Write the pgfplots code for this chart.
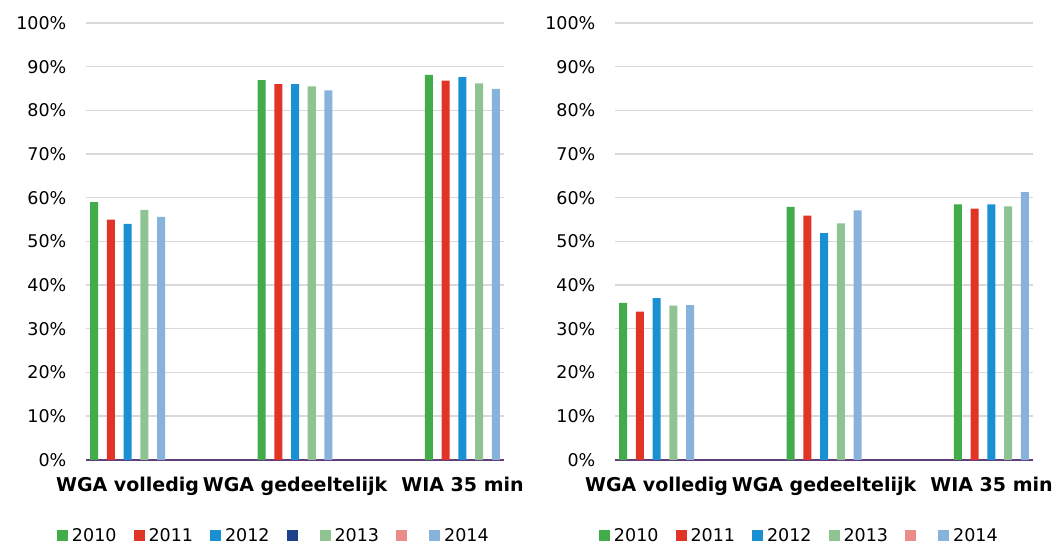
\documentclass[border=0pt]{standalone}
\usepackage{pgfplots}
\pgfplotsset{compat=1.18}
\usepackage{fontspec}
\setmainfont{DejaVu Sans}
\definecolor{cG}{RGB}{67,172,74}
\definecolor{cR}{RGB}{226,52,38}
\definecolor{cB}{RGB}{25,144,210}
\definecolor{cDB}{RGB}{30,65,140}
\definecolor{cLG}{RGB}{143,196,146}
\definecolor{cP}{RGB}{234,140,136}
\definecolor{cLB}{RGB}{135,178,220}
\definecolor{cAx}{RGB}{100,62,122}
\definecolor{cGrid}{RGB}{217,217,217}
\pgfplotsset{
  sqleg/.style={legend image code/.code={\fill[##1] (0pt,-5.5pt) rectangle (11pt,5.5pt);}},
  mybar/.style={ybar, bar shift=0pt, bar width=8pt, draw=none, fill=#1, sqleg},
  panel/.style={
    scale only axis, width=418pt, height=436.8pt,
    anchor=south west,
    xmin=-0.48, xmax=24.48, ymin=0, ymax=100,
    ytick={0,10,...,100},
    yticklabels={0\%,10\%,20\%,30\%,40\%,50\%,60\%,70\%,80\%,90\%,100\%},
    xtick={2,12,22},
    xticklabels={WGA volledig,WGA gedeeltelijk,WIA 35 min},
    ymajorgrids, major grid style={cGrid, line width=1.3pt},
    major tick length=0pt,
    axis x line*=bottom, axis y line*=left,
    x axis line style={cAx, line width=2pt},
    y axis line style={draw=none},
    yticklabel style={font=\fontsize{17.5}{20}\selectfont, anchor=east, inner sep=0pt, xshift=-19.5pt},
    xticklabel style={font=\fontsize{19}{22}\selectfont\bfseries, anchor=north, inner sep=0pt, yshift=-17pt},
    legend columns=-1,
    legend style={draw=none, fill=none, inner sep=0pt, outer sep=0pt, anchor=west,
      font=\fontsize{17.5}{20}\selectfont, nodes={inner sep=0pt},
      /tikz/every odd column/.append style={column sep=4pt},
      /tikz/every even column/.append style={column sep=17pt}},
  }
}
\begin{document}
\begin{tikzpicture}
\useasboundingbox (0,0) rectangle (1055pt,544pt);
\begin{axis}[panel, at={(86pt,84.2pt)}, legend style={at={(axis description cs:-0.0694,-0.174)}}]
\addplot[mybar=cG] coordinates {(0,59) (10,86.9) (20,88.1)};
\addlegendentry{2010}
\addplot[mybar=cR] coordinates {(1,55) (11,86) (21,86.8)};
\addlegendentry{2011}
\addplot[mybar=cB] coordinates {(2,54) (12,86) (22,87.6)};
\addlegendentry{2012}
\addlegendimage{sqleg, fill=cDB, draw=none}
\addlegendentry{}
\addplot[mybar=cLG] coordinates {(3,57.2) (13,85.5) (23,86.2)};
\addlegendentry{2013}
\addlegendimage{sqleg, fill=cP, draw=none}
\addlegendentry{}
\addplot[mybar=cLB] coordinates {(4,55.6) (14,84.6) (24,84.9)};
\addlegendentry{2014}
\end{axis}
\begin{axis}[panel, at={(615pt,84.2pt)}, legend style={at={(axis description cs:-0.0383,-0.174)}}]
\addplot[mybar=cG] coordinates {(0,35.9) (10,57.9) (20,58.5)};
\addlegendentry{2010}
\addplot[mybar=cR] coordinates {(1,33.9) (11,55.9) (21,57.5)};
\addlegendentry{2011}
\addplot[mybar=cB] coordinates {(2,37.0) (12,51.9) (22,58.5)};
\addlegendentry{2012}
\addplot[mybar=cLG] coordinates {(3,35.3) (13,54.1) (23,58.0)};
\addlegendentry{2013}
\addlegendimage{sqleg, fill=cP, draw=none}
\addlegendentry{}
\addplot[mybar=cLB] coordinates {(4,35.4) (14,57.1) (24,61.3)};
\addlegendentry{2014}
\end{axis}
\end{tikzpicture}
\end{document}
